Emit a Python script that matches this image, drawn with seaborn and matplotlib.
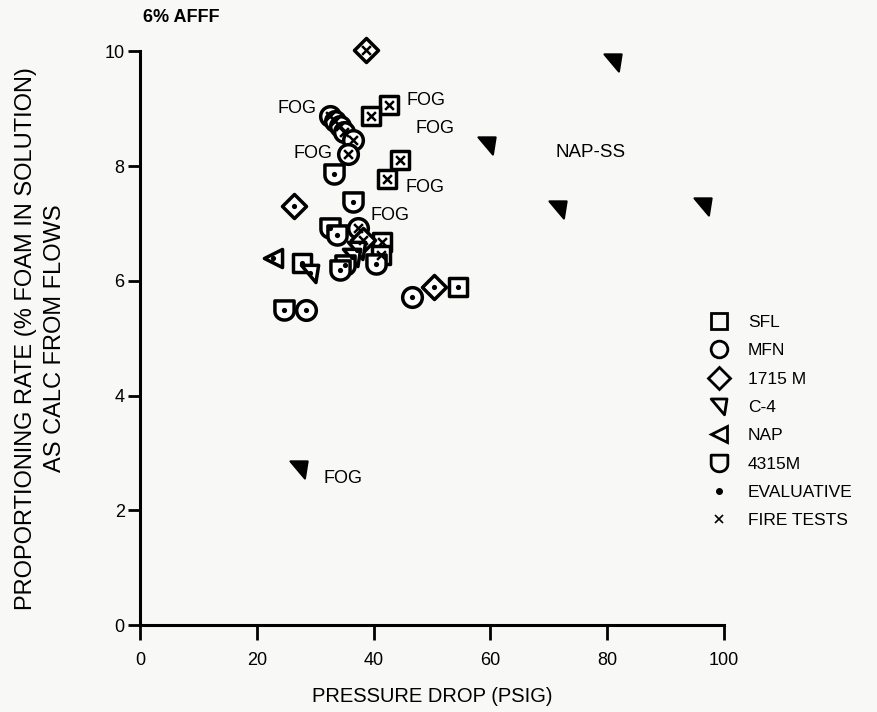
import numpy as np
import pandas as pd
import seaborn as sns
import matplotlib.pyplot as plt
from matplotlib.path import Path
from matplotlib.lines import Line2D

# values (pressure drop psig, proportioning rate %)
sfl_x = [42.6, 39.6, 44.5, 42.3, 41.4, 41.2, 27.7, 54.5]
sfl_y = [9.06, 8.87, 8.10, 7.77, 6.67, 6.45, 6.31, 5.89]
sfl_test = ['F', 'F', 'F', 'F', 'F', 'F', 'E', 'E']

mfn_x = [32.5, 33.4, 34.2, 35.0, 36.5, 35.7, 37.3, 46.6, 28.4]
mfn_y = [8.87, 8.78, 8.70, 8.60, 8.45, 8.21, 6.92, 5.71, 5.49]
mfn_test = ['F', 'F', 'F', 'F', 'F', 'F', 'F', 'E', 'E']

m1715_x = [38.7, 26.4, 38.2, 50.3]
m1715_y = [10.02, 7.30, 6.71, 5.89]
m1715_test = ['F', 'E', 'F', 'E']

c4_x = [29.1, 37.2, 36.3]
c4_y = [6.13, 6.53, 6.41]
c4_test = ['E', 'E', 'E']

c4ss_x = [81.0, 59.4, 71.6, 96.4, 27.2]
c4ss_y = [9.82, 8.37, 7.25, 7.31, 2.72]

nap_x = [22.8]
nap_y = [6.39]
nap_test = ['E']

m4315_x = [33.2, 36.5, 32.5, 33.7, 35.1, 34.2, 40.4, 24.7]
m4315_y = [7.86, 7.37, 6.92, 6.79, 6.27, 6.18, 6.30, 5.49]
m4315_test = ['E', 'E', 'E', 'E', 'E', 'E', 'E', 'E']

fog_x = [26.9, 49.0, 50.5, 29.6, 48.8, 42.8, 34.8]
fog_y = [9.00, 9.15, 8.66, 8.21, 7.63, 7.14, 2.56]

legend_names = ['SFL', 'MFN', '1715 M', 'C-4', 'NAP', '4315M']

# marker shapes
c4_marker = Path([(-1, 0.9), (0.9, 0.9), (0.6, -1), (-1, 0.9)],
                 [Path.MOVETO, Path.LINETO, Path.LINETO, Path.CLOSEPOLY])
t = np.linspace(0, np.pi, 15)
shield = [(-1, 1), (1, 1)] + [(np.cos(a), -0.1 - 0.9 * np.sin(a)) for a in t] + [(-1, 1)]
m4315_marker = Path(shield, [Path.MOVETO] + [Path.LINETO] * (len(shield) - 2) + [Path.CLOSEPOLY])

sns.set_style('ticks')
plt.rcParams['font.family'] = ['Liberation Sans', 'DejaVu Sans']
plt.rcParams['text.color'] = 'black'
plt.rcParams['axes.labelcolor'] = 'black'

fig = plt.figure(figsize=(8.77, 7.12), dpi=100)
fig.patch.set_facecolor('#f8f8f6')
ax = fig.add_axes([0.1596, 0.122, 0.666, 0.806])
ax.set_facecolor('#f8f8f6')

groups = [
    ('SFL', sfl_x, sfl_y, sfl_test, 's', 180),
    ('MFN', mfn_x, mfn_y, mfn_test, 'o', 200),
    ('1715 M', m1715_x, m1715_y, m1715_test, 'D', 150),
    ('C-4', c4_x, c4_y, c4_test, c4_marker, 170),
    ('NAP', nap_x, nap_y, nap_test, '<', 170),
    ('4315M', m4315_x, m4315_y, m4315_test, m4315_marker, 190),
]

for name, xs, ys, tests, mk, size in groups:
    df = pd.DataFrame({'x': xs, 'y': ys, 'test': tests})
    sns.scatterplot(data=df, x='x', y='y', marker=mk, s=size, color='white',
                    edgecolor='black', linewidth=2.5, ax=ax, zorder=3,
                    clip_on=False)
    ev = df[df['test'] == 'E']
    fi = df[df['test'] == 'F']
    sns.scatterplot(data=ev, x='x', y='y', marker='o', s=14, color='black',
                    edgecolor='black', linewidth=0, ax=ax, zorder=4,
                    clip_on=False)
    sns.scatterplot(data=fi, x='x', y='y', marker='x', s=40, color='black',
                    linewidth=1.8, ax=ax, zorder=4, clip_on=False)

ss = pd.DataFrame({'x': c4ss_x, 'y': c4ss_y})
sns.scatterplot(data=ss, x='x', y='y', marker=c4_marker, s=170, color='black',
                edgecolor='black', linewidth=1.5, ax=ax, zorder=3)

for fx, fy in zip(fog_x, fog_y):
    ax.text(fx, fy, 'FOG', fontsize=13, ha='center', va='center')
ax.text(77.1, 8.24, 'NAP-SS', fontsize=13.5, ha='center', va='center')
fig.text(0.207, 0.975, '6% AFFF', fontsize=13, ha='center', va='center',
         fontweight='bold')

ax.set_xlim(0, 100)
ax.set_ylim(0, 10)
ax.set_xticks([0, 20, 40, 60, 80, 100])
ax.set_yticks([0, 2, 4, 6, 8, 10])
ax.tick_params(axis='both', direction='out', width=2, labelsize=13,
               colors='black')
ax.tick_params(axis='x', length=11, pad=8)
ax.tick_params(axis='y', length=9, pad=2)
for side in ['left', 'bottom']:
    ax.spines[side].set_linewidth(2.2)
    ax.spines[side].set_color('black')
sns.despine(ax=ax)

ax.set_xlabel('PRESSURE DROP (PSIG)', fontsize=14.5, labelpad=13)
ax.set_ylabel('PROPORTIONING RATE (% FOAM IN SOLUTION)\nAS CALC FROM FLOWS',
              fontsize=17, labelpad=28, linespacing=1.4)

handles = [
    Line2D([], [], ls='', marker='s', ms=12, mfc='none', mec='black', mew=2),
    Line2D([], [], ls='', marker='o', ms=12, mfc='none', mec='black', mew=2),
    Line2D([], [], ls='', marker='D', ms=11, mfc='none', mec='black', mew=2),
    Line2D([], [], ls='', marker=c4_marker, ms=12, mfc='none', mec='black', mew=2),
    Line2D([], [], ls='', marker='<', ms=12, mfc='none', mec='black', mew=2),
    Line2D([], [], ls='', marker=m4315_marker, ms=12, mfc='none', mec='black', mew=2),
    Line2D([], [], ls='', marker='o', ms=4, mfc='black', mec='black'),
    Line2D([], [], ls='', marker='x', ms=6, mec='black', mew=1.2),
]
labels = legend_names + ['EVALUATIVE', 'FIRE TESTS']
ax.legend(handles, labels, loc='upper left', bbox_to_anchor=(0.955, 0.553),
          frameon=False, fontsize=12.5, handlelength=1.6, handletextpad=0.9,
          labelspacing=0.76, borderaxespad=0)

fig.savefig('out.png', dpi=100, facecolor=fig.get_facecolor())
